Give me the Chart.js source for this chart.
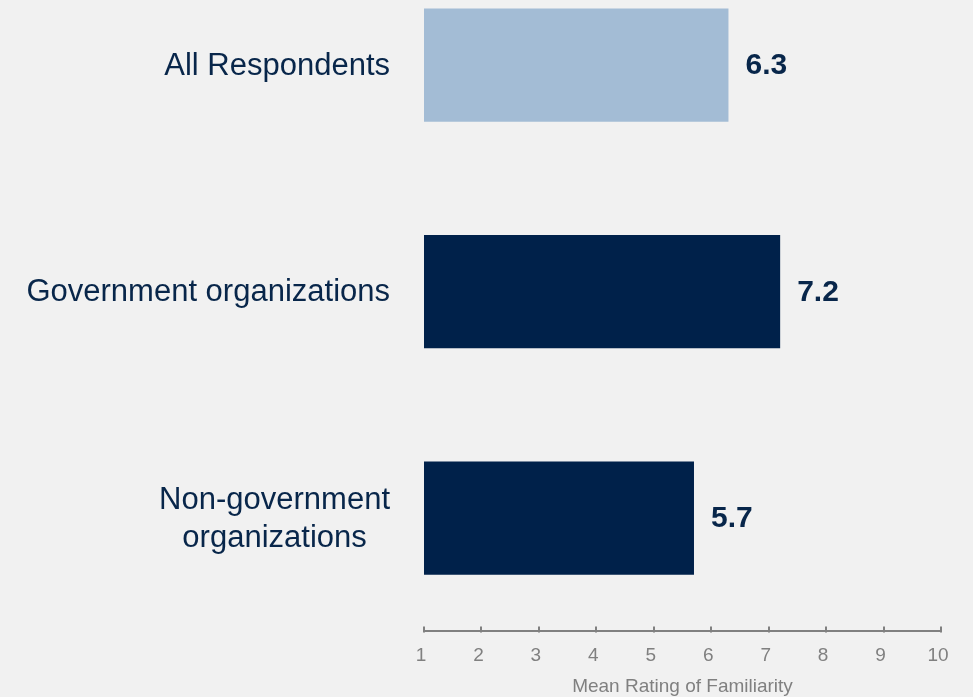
<!DOCTYPE html>
<html>
<head>
<meta charset="utf-8">
<script src="https://cdn.jsdelivr.net/npm/chart.js@4/dist/chart.umd.min.js"></script>
<style>
  html, body { margin: 0; padding: 0; background: #f1f1f1; overflow: hidden; }
  #page { position: relative; width: 973px; height: 697px; overflow: hidden; }
  /* canvas pushed above the page so the first bar sits close to the top edge */
  #wrap { position: absolute; left: 0; top: -48px; width: 973px; height: 746px; }
</style>
</head>
<body>
<div id="page"><div id="wrap"><canvas id="famChart"></canvas></div></div>
<script>
const categories = ['All Respondents', 'Government organizations', ['Non-government', 'organizations']];
const meanRatings = [6.3, 7.2, 5.7];
const barColors = ['#a3bcd5', '#00214a', '#00214a'];
const xTicks = [1, 2, 3, 4, 5, 6, 7, 8, 9, 10];

const navy = '#08264a';
const axisGray = '#808080';
const fontFamily = '"Liberation Sans", Arial, sans-serif';

// category labels: right aligned block, multi-line centred inside it
const categoryLabels = {
    id: 'categoryLabels',
    afterDraw(chart) {
        const ctx = chart.ctx;
        const yScale = chart.scales.y;
        const rightEdge = 390;
        const lineH = 38;
        ctx.save();
        ctx.font = '31px ' + fontFamily;
        ctx.fillStyle = navy;
        ctx.textBaseline = 'middle';
        ctx.textAlign = 'center';
        categories.forEach((label, i) => {
            const lines = Array.isArray(label) ? label : [label];
            const blockW = Math.max(...lines.map(l => ctx.measureText(l).width));
            const cx = rightEdge - blockW / 2;
            const cy = yScale.getPixelForValue(i) + 1;
            const startY = cy - (lines.length - 1) * lineH / 2;
            lines.forEach((l, j) => ctx.fillText(l, cx, startY + j * lineH));
        });
        ctx.restore();
    }
};

// value labels after the bar ends
const valueLabels = {
    id: 'valueLabels',
    afterDatasetsDraw(chart) {
        const ctx = chart.ctx;
        const meta = chart.getDatasetMeta(0);
        ctx.save();
        ctx.font = 'bold 30px ' + fontFamily;
        ctx.fillStyle = navy;
        ctx.textAlign = 'left';
        ctx.textBaseline = 'middle';
        meta.data.forEach((bar, i) => {
            ctx.fillText(meanRatings[i].toFixed(1), bar.x + 17, bar.y + 1);
        });
        ctx.restore();
    }
};

// small tick marks pointing up from the axis line
const upTicks = {
    id: 'upTicks',
    afterDraw(chart) {
        const ctx = chart.ctx;
        const xScale = chart.scales.x;
        const base = chart.chartArea.bottom + 1;
        ctx.save();
        ctx.strokeStyle = axisGray;
        ctx.lineWidth = 2;
        xTicks.forEach(v => {
            const px = Math.round(xScale.getPixelForValue(v));
            ctx.beginPath();
            ctx.moveTo(px, base);
            ctx.lineTo(px, base - 6);
            ctx.stroke();
        });
        ctx.restore();
    }
};

const ctx = document.getElementById('famChart').getContext('2d');
new Chart(ctx, {
    type: 'bar',
    data: {
        labels: categories,
        datasets: [{
            data: meanRatings,
            backgroundColor: barColors,
            borderWidth: 0,
            barPercentage: 0.5,
            categoryPercentage: 1
        }]
    },
    options: {
        indexAxis: 'y',
        responsive: true,
        maintainAspectRatio: false,
        animation: false,
        layout: { padding: { top: 0, left: 424, right: 32, bottom: 0 } },
        plugins: { legend: { display: false }, tooltip: { enabled: false } },
        scales: {
            y: { display: false },
            x: {
                min: 1,
                max: 10,
                afterBuildTicks: scale => { scale.ticks = xTicks.map(v => ({ value: v })); },
                grid: { display: false, drawTicks: false },
                border: { display: true, color: axisGray, width: 2 },
                ticks: {
                    color: axisGray,
                    padding: 13,
                    labelOffset: -3,
                    font: { family: fontFamily, size: 19 }
                },
                title: {
                    display: true,
                    text: 'Mean Rating of Familiarity',
                    color: axisGray,
                    font: { family: fontFamily, size: 19 },
                    padding: { top: -5, bottom: 0 }
                }
            }
        }
    },
    plugins: [categoryLabels, valueLabels, upTicks]
});
</script>
</body>
</html>
